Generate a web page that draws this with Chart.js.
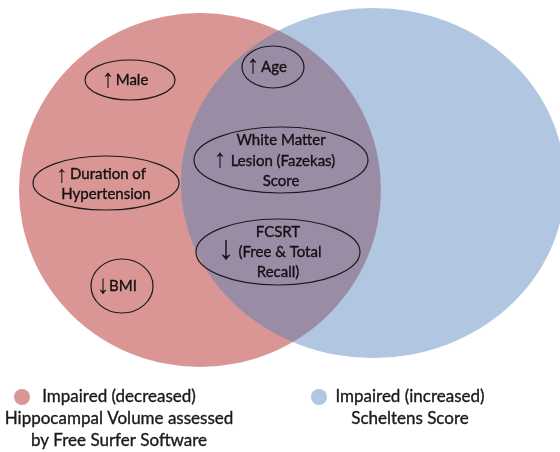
<!DOCTYPE html>
<html>
<head>
<meta charset="utf-8">
<script src="https://cdn.jsdelivr.net/npm/chart.js@4"></script>
<style>
  html, body { margin: 0; padding: 0; background: #fff; }
  #venn { display: block; }
</style>
</head>
<body>
<canvas id="venn" width="560" height="452"></canvas>
<script>
// --- DATA ---
const setNames = [
  ['Impaired (decreased)', 'Hippocampal Volume assessed', 'by Free Surfer Software'],
  ['Impaired (increased)', 'Scheltens Score']
];
const factorNames = [
  ['Male'],
  ['Age'],
  ['White Matter', 'Lesion (Fazekas)', 'Score'],
  ['Duration of', 'Hypertension'],
  ['FCSRT', '(Free & Total', 'Recall)'],
  ['BMI']
];
const factorTrend = ['↑', '↑', '↑', '↑', '↓', '↓'];
// which set(s) each factor belongs to (0 = hippocampal volume, 1 = Scheltens)
const factorSets = [[0], [0, 1], [0, 1], [0], [0, 1], [0]];

// --- LAYOUT (chart units, 1 unit = 1 px) ---
const setShapes = [
  { cx: 200, cy: 190, rx: 181, ry: 177 },
  { cx: 373, cy: 183, rx: 192, ry: 175 }
];
const setFill = ['rgba(192, 80, 77, 0.6)', 'rgba(79, 129, 189, 0.45)'];
const factorShapes = [
  { cx: 130, cy: 80, rx: 45, ry: 20, lines: [[132, 80]], arrow: [108, 80, 26] },
  { cx: 273, cy: 67, rx: 31, ry: 21, lines: [[274, 67]], arrow: [253, 66, 26] },
  { cx: 281, cy: 160, rx: 87, ry: 33, lines: [[281, 140], [283, 161], [281, 181]], arrow: [220, 160, 26] },
  { cx: 106, cy: 183, rx: 73, ry: 27, lines: [[108, 174], [106, 194]], arrow: [62, 175, 24] },
  { cx: 278, cy: 252, rx: 82, ry: 33, lines: [[278, 232], [280, 252], [278, 272]], arrow: [226, 250, 34] },
  { cx: 122, cy: 286, rx: 31, ry: 27, lines: [[123, 286]], arrow: [103, 286, 26] }
];
const legendDots = [[22, 397], [319, 397]];
const legendLines = [
  [[119, 397], [119, 419], [119, 441]],
  [[410, 397], [410, 419]]
];
const legendDotFill = ['rgb(217, 150, 148)', 'rgb(176, 198, 226)'];

const FONT = 'Lato, "Noto Sans", "DejaVu Sans", sans-serif';
const ARROW_FONT = '"Liberation Sans", "DejaVu Sans", sans-serif';

function ellipse(ctx, xs, ys, s) {
  const px = xs.getPixelForValue(s.cx), py = ys.getPixelForValue(s.cy);
  const rx = Math.abs(xs.getPixelForValue(s.cx + s.rx) - px);
  const ry = Math.abs(ys.getPixelForValue(s.cy + s.ry) - py);
  ctx.beginPath();
  ctx.ellipse(px, py, rx, ry, 0, 0, Math.PI * 2);
}

// slightly heavier text, closer to the original Calibri look
function boldish(ctx, t, px, py) {
  ctx.fillText(t, px, py);
  ctx.lineWidth = 0.35;
  ctx.strokeText(t, px, py);
}

const vennPlugin = {
  id: 'venn',
  beforeDatasetsDraw(chart) {
    const { ctx, scales: { x, y } } = chart;
    ctx.save();
    setShapes.forEach((s, i) => {
      ellipse(ctx, x, y, s);
      ctx.fillStyle = setFill[i];
      ctx.fill();
    });
    ctx.restore();
  },
  afterDatasetsDraw(chart) {
    const { ctx, scales: { x, y } } = chart;
    ctx.save();
    ctx.textAlign = 'center';
    ctx.textBaseline = 'middle';
    factorShapes.forEach((s, i) => {
      ellipse(ctx, x, y, s);
      ctx.strokeStyle = '#1b1b1b';
      ctx.lineWidth = 1.2;
      ctx.stroke();
      ctx.fillStyle = '#111';
      ctx.strokeStyle = '#111';
      ctx.font = '15px ' + FONT;
      factorNames[i].forEach((t, j) => {
        const p = s.lines[j];
        boldish(ctx, t, x.getPixelForValue(p[0]), y.getPixelForValue(p[1]));
      });
      const a = s.arrow;
      ctx.font = a[2] + 'px ' + ARROW_FONT;
      ctx.fillText(factorTrend[i], x.getPixelForValue(a[0]), y.getPixelForValue(a[1]));
    });

    // legend
    setNames.forEach((lines, i) => {
      const d = legendDots[i];
      ctx.beginPath();
      ctx.arc(x.getPixelForValue(d[0]), y.getPixelForValue(d[1]), 8, 0, Math.PI * 2);
      ctx.fillStyle = legendDotFill[i];
      ctx.fill();
      ctx.fillStyle = '#1a1a1a';
      ctx.strokeStyle = '#1a1a1a';
      ctx.font = '17px ' + FONT;
      lines.forEach((t, j) => {
        const p = legendLines[i][j];
        boldish(ctx, t, x.getPixelForValue(p[0]), y.getPixelForValue(p[1]));
      });
    });
    ctx.restore();
  }
};

new Chart(document.getElementById('venn'), {
  type: 'scatter',
  data: {
    datasets: [{
      label: 'factors',
      data: factorShapes.map(s => ({ x: s.cx, y: s.cy })),
      pointRadius: 0
    }]
  },
  options: {
    responsive: false,
    animation: false,
    devicePixelRatio: 1,
    events: [],
    layout: { padding: 0 },
    plugins: { legend: { display: false }, tooltip: { enabled: false } },
    scales: {
      x: { type: 'linear', min: 0, max: 560, display: false },
      y: { type: 'linear', min: 0, max: 452, reverse: true, display: false }
    }
  },
  plugins: [vennPlugin]
});
</script>
</body>
</html>
